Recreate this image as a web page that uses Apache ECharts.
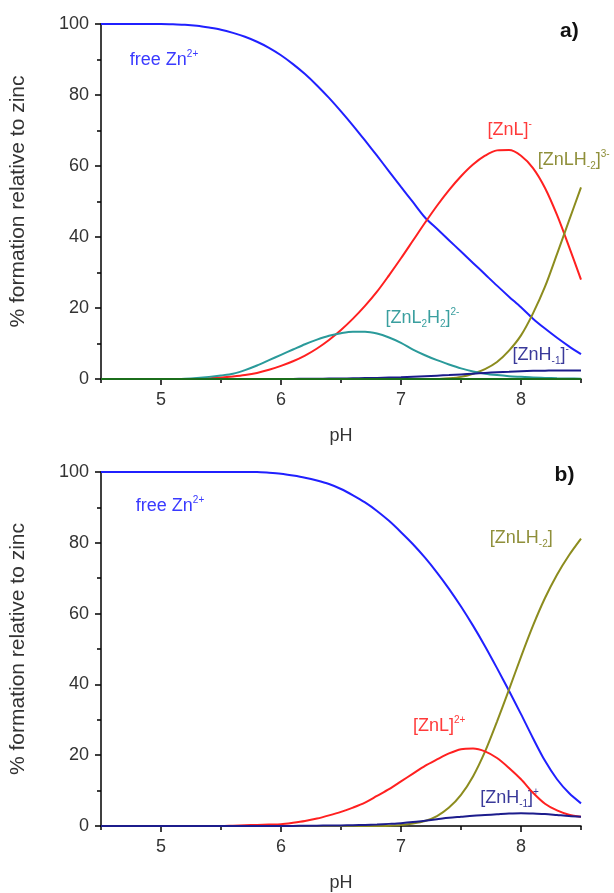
<!DOCTYPE html>
<html><head><meta charset="utf-8">
<script src="https://cdn.jsdelivr.net/npm/echarts@6/dist/echarts.min.js"></script>
<style>html,body{margin:0;padding:0;background:#fff}#c{width:614px;height:893px}</style>
</head><body><div id="c"></div>
<script>
// pH sampling grid (shared by both panels)
const pH = [4.5,4.6,4.7,4.8,4.9,5.0,5.1,5.2,5.3,5.4,5.5,5.6,5.7,5.8,5.9,6.0,6.1,6.2,6.3,6.4,6.5,6.6,6.7,6.8,6.9,7.0,7.1,7.2,7.3,7.4,7.5,7.6,7.7,7.8,7.9,8.0,8.1,8.2,8.3,8.4,8.5];

// Panel a)
const aFreeZn = [100,100,100,100,100,100,99.9,99.8,99.5,99.0,98.4,97.5,96.4,95.0,93.3,91.2,88.7,85.9,82.7,79.2,75.4,71.4,67.2,62.9,58.5,54.1,49.8,45.5,42.3,39.1,35.9,32.7,29.5,26.3,23.2,20.2,17.0,14.2,11.6,9.2,7.0];
const aZnL = [0,0,0,0,0,0,0,0,0,0.2,0.4,0.7,1.1,1.7,2.6,3.7,5,6.6,8.6,11,13.8,17,20.6,24.6,29.2,34,39,44,48.8,53.2,57.1,60.4,62.9,64.4,64.5,62.9,59.4,53.8,46.2,37.3,28];
const aZnLH2 = [0,0,0,0,0,0,0,0,0,0,0,0,0,0,0,0,0,0,0,0,0,0,0,0,0,0,0,0,0,0.2,0.6,1.5,2.8,4.8,8,12.3,18.5,26,35.2,44.6,54];
const aZnL2H2 = [0,0,0,0,0,0,0,0.1,0.3,0.6,1,1.5,2.5,3.8,5.3,6.8,8.3,9.8,11.1,12.2,12.9,13.3,13.3,12.8,11.7,10.2,8.3,6.7,5.3,4.1,3.0,2.1,1.5,1.1,0.8,0.6,0.4,0.3,0.2,0.15,0.1];
const aZnHm1 = [0,0,0,0,0,0,0,0,0,0,0,0,0,0,0,0,0.03,0.05,0.08,0.12,0.15,0.2,0.25,0.3,0.4,0.5,0.65,0.8,0.95,1.1,1.3,1.5,1.7,1.9,2.05,2.2,2.3,2.35,2.4,2.4,2.4];
const aOther = [0,0,0,0,0,0,0,0,0,0,0,0,0,0,0,0,0,0,0,0,0,0,0,0,0,0,0,0,0,0,0,0,0,0,0,0,0,0,0,0,0];

// Panel b)
const bFreeZn = [100,100,100,100,100,100,100,100,100,100,100,100,100,100,99.8,99.5,99,98.4,97.6,96.6,95.2,93.4,91.4,89,86.2,83,79.6,75.8,71.6,67,62,56.6,50.8,44.6,38.2,31.6,24.8,18.4,13.2,9.3,6.4];
const bZnLH2 = [0,0,0,0,0,0,0,0,0,0,0,0,0,0,0,0,0,0,0,0,0,0,0,0,0.1,0.3,0.7,1.4,2.8,5.2,8.8,14,21,29.5,38.5,47.8,56.6,64.4,71,76.5,81.2];
const bZnL = [0,0,0,0,0,0,0,0,0,0,0,0.1,0.2,0.3,0.4,0.5,0.9,1.4,2.1,3,4,5.2,6.6,8.5,10.4,12.6,14.8,17,18.8,20.5,21.7,21.9,21.1,19.2,16.4,13.2,9.4,6.3,4.4,3.2,2.6];
const bZnHm1 = [0,0,0,0,0,0,0,0,0,0,0,0,0,0,0,0,0.03,0.06,0.1,0.13,0.17,0.22,0.3,0.42,0.6,0.8,1.1,1.5,1.9,2.3,2.6,2.9,3.1,3.3,3.5,3.6,3.5,3.4,3.1,2.8,2.6];

// Axis ticks
const xMajorTicks = [5,6,7,8];
const xMinorTicks = [4.5,5.5,6.5,7.5,8.5];

const FONT = '"Liberation Sans", Arial, sans-serif';
const C = {blue:'#2020ff', red:'#ff2020', olive:'#8c8c1e', teal:'#2a9a9a', navy:'#1c1c8c', green:'#1b6e1b'};
const T = {blue:'#3a3aff', red:'#ff3a3a', olive:'#8f8f3a', teal:'#3a9f9f', navy:'#3a3a9a'};

const zip = ys => pH.map((x,i)=>[x, ys[i]]);

function xMain(g){
  return {type:'value', gridIndex:g, min:4.5, max:8.5, interval:0.5, position:'bottom',
    axisLine:{show:true, onZero:false, lineStyle:{color:'#000', width:1.5}},
    axisTick:{show:true, customValues:xMajorTicks, length:6, lineStyle:{color:'#000', width:1.5}},
    axisLabel:{show:true, customValues:xMajorTicks, fontSize:18, color:'#333', margin:12, fontFamily:FONT},
    splitLine:{show:false},
    name:'pH', nameLocation:'middle', nameGap:48,
    nameTextStyle:{fontSize:18, color:'#333', fontFamily:FONT}};
}
function xMinor(g){
  return {type:'value', gridIndex:g, min:4.5, max:8.5, interval:0.5, position:'bottom', offset:0,
    axisLine:{show:false}, axisLabel:{show:false}, splitLine:{show:false},
    axisTick:{show:true, customValues:xMinorTicks, length:4, lineStyle:{color:'#000', width:1.5}}};
}
function yAx(g){
  return {type:'value', gridIndex:g, min:0, max:100, interval:20,
    axisLine:{show:true, onZero:false, lineStyle:{color:'#000', width:1.5}},
    axisTick:{show:true, length:6, lineStyle:{color:'#000', width:1.5}},
    minorTick:{show:true, splitNumber:2, length:4, lineStyle:{color:'#000', width:1.5}},
    axisLabel:{fontSize:18, color:'#333', margin:12, fontFamily:FONT},
    splitLine:{show:false},
    name:'% formation relative to zinc', nameLocation:'middle', nameGap:72, nameRotate:90,
    nameTextStyle:{fontSize:21, color:'#333', fontFamily:FONT}};
}
function line(name, ys, color, xi, yi, z){
  return {name, type:'line', xAxisIndex:xi, yAxisIndex:yi, data:zip(ys), showSymbol:false,
    smooth:0.3, lineStyle:{color, width:2}, itemStyle:{color}, z:z||2, silent:true};
}

const chart = echarts.init(document.getElementById('c'), null, {renderer:'canvas'});
chart.setOption({
  animation:false,
  backgroundColor:'#fff',
  grid:[{left:101, top:24, width:480, height:355}, {left:101, top:472, width:480, height:355}],
  xAxis:[xMain(0), xMinor(0), xMain(1), xMinor(1)],
  yAxis:[yAx(0), yAx(1)],
  series:[
    line('free Zn2+', aFreeZn, C.blue, 0, 0),
    line('[ZnL]-', aZnL, C.red, 0, 0),
    line('[ZnLH-2]3-', aZnLH2, C.olive, 0, 0),
    line('[ZnL2H2]2-', aZnL2H2, C.teal, 0, 0),
    line('[ZnH-1]-', aZnHm1, C.navy, 0, 0, 3),
    line('other', aOther, C.green, 0, 0, 4),
    line('free Zn2+ b', bFreeZn, C.blue, 2, 1),
    line('[ZnLH-2] b', bZnLH2, C.olive, 2, 1),
    line('[ZnL]2+ b', bZnL, C.red, 2, 1),
    line('[ZnH-1]+ b', bZnHm1, C.navy, 2, 1, 3)
  ]
});

// Annotations: [panel, pH, value, rich text, colour]
const labelPanels = [0,0,0,0,0,1,1,1,1];
const labelX = [4.74, 7.72, 8.14, 6.87, 7.93, 4.79, 7.74, 7.10, 7.66];
const labelY = [89.8, 70.1, 61.7, 17.2, 6.8, 90.4, 81.4, 28.2, 7.9];
const labelText = [
  '{m|free Zn}{sup|2+}',
  '{m|[ZnL]}{sup|-}',
  '{m|[ZnLH}{sub|-2}{m|]}{sup|3-}',
  '{m|[ZnL}{sub|2}{m|H}{sub|2}{m|]}{sup|2-}',
  '{m|[ZnH}{sub|-1}{m|]}{sup|-}',
  '{m|free Zn}{sup|2+}',
  '{m|[ZnLH}{sub|-2}{m|]}',
  '{m|[ZnL]}{sup|2+}',
  '{m|[ZnH}{sub|-1}{m|]}{sup|+}'
];
const labelColor = [T.blue, T.red, T.olive, T.teal, T.navy, T.blue, T.olive, T.red, T.navy];
const panelTags = ['a)', 'b)'];
const tagX = [8.325, 8.28];
const tagY = [98, 99.2];

function place(){
  const els = [];
  for (let i=0;i<labelText.length;i++){
    const p = labelPanels[i];
    const px = chart.convertToPixel({xAxisIndex:p*2, yAxisIndex:p}, [labelX[i], labelY[i]]);
    const col = labelColor[i];
    els.push({type:'text', x:px[0], y:px[1], silent:true, style:{
      text:labelText[i], align:'left', verticalAlign:'middle', fontFamily:FONT,
      rich:{
        m:{fontSize:18, lineHeight:22, fill:col, fontFamily:FONT},
        sup:{fontSize:10, fill:col, verticalAlign:'top', fontFamily:FONT},
        sub:{fontSize:10, fill:col, verticalAlign:'bottom', fontFamily:FONT}
      }}});
  }
  for (let p=0;p<2;p++){
    const px = chart.convertToPixel({xAxisIndex:p*2, yAxisIndex:p}, [tagX[p], tagY[p]]);
    els.push({type:'text', x:px[0], y:px[1], silent:true, style:{
      text:panelTags[p], align:'left', verticalAlign:'middle', fontSize:21, fontWeight:'bold', fill:'#111', fontFamily:FONT}});
  }
  chart.setOption({graphic:els});
}
place();
</script>
</body></html>
